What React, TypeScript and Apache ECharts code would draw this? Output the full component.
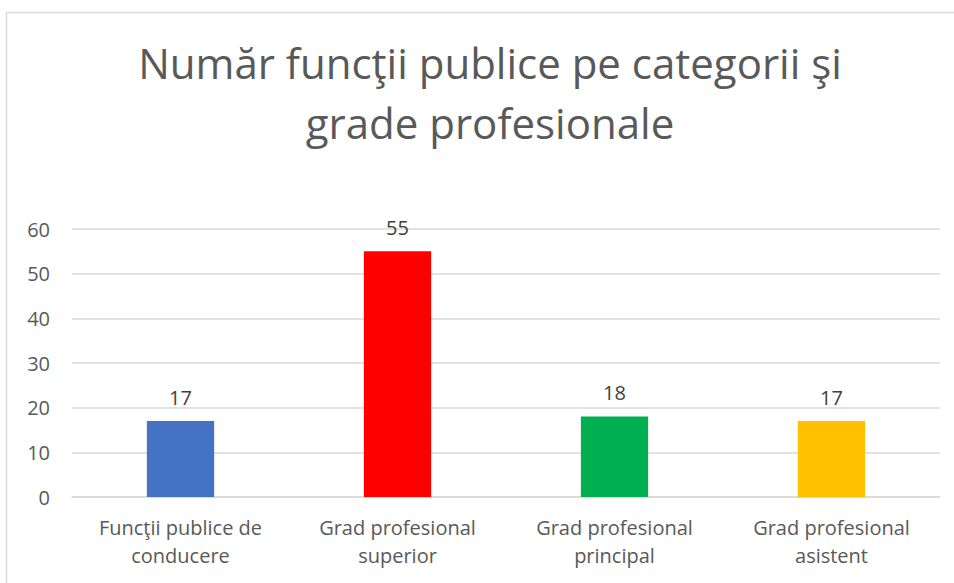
import React, { useEffect, useRef } from "react";
import * as echarts from "echarts";

const titleLines = ["Număr funcţii publice pe categorii şi", "grade profesionale"];
const categories = [
  "Funcţii publice de\nconducere",
  "Grad profesional\nsuperior",
  "Grad profesional\nprincipal",
  "Grad profesional\nasistent",
];
const values = [17, 55, 18, 17];
const barColors = ["#4472C4", "#FF0000", "#00B050", "#FFC000"];
const yTicks = { min: 0, max: 60, interval: 10 };

export default function App() {
  const ref = useRef<HTMLDivElement>(null);
  useEffect(() => {
    if (!ref.current) return;
    const chart = echarts.init(ref.current, undefined, { renderer: "svg" });
    const font = "'Open Sans', 'Noto Sans', sans-serif";
    chart.setOption({
      animation: false,
      backgroundColor: "#ffffff",
      title: {
        text: titleLines.join("\n"),
        left: 490,
        textAlign: "center",
        top: 32,
        padding: 0,
        textStyle: {
          fontFamily: font,
          fontSize: 42,
          fontWeight: "normal",
          color: "#595959",
          lineHeight: 60,
        },
      },
      graphic: [
        {
          type: "rect",
          shape: { x: 6.5, y: 12.5, width: 960, height: 600 },
          style: { fill: "none", stroke: "#d9d9d9", lineWidth: 1.5 },
          silent: true,
        },
      ],
      grid: { left: 72, right: 14, top: 229, bottom: 86, containLabel: false },
      xAxis: {
        type: "category",
        data: categories,
        axisLine: { lineStyle: { color: "#d9d9d9", width: 1.5 } },
        axisTick: { show: false },
        axisLabel: {
          fontFamily: font,
          fontSize: 20,
          color: "#595959",
          lineHeight: 28,
          margin: 16,
          interval: 0,
        },
      },
      yAxis: {
        type: "value",
        min: yTicks.min,
        max: yTicks.max,
        interval: yTicks.interval,
        axisLine: { show: false },
        axisTick: { show: false },
        splitLine: { lineStyle: { color: "#d9d9d9", width: 1.5 } },
        axisLabel: {
          fontFamily: font,
          fontSize: 20,
          color: "#595959",
          margin: 22,
        },
      },
      series: [
        {
          type: "bar",
          data: values.map((v, i) => ({ value: v, itemStyle: { color: barColors[i] } })),
          barWidth: "31%",
          label: {
            show: true,
            position: "top",
            distance: 14,
            fontFamily: font,
            fontSize: 20,
            color: "#404040",
          },
        },
      ],
    });
    return () => chart.dispose();
  }, []);
  return (
    <div
      ref={ref}
      style={{ position: "absolute", left: 0, top: 0, width: 954, height: 583 }}
    />
  );
}
